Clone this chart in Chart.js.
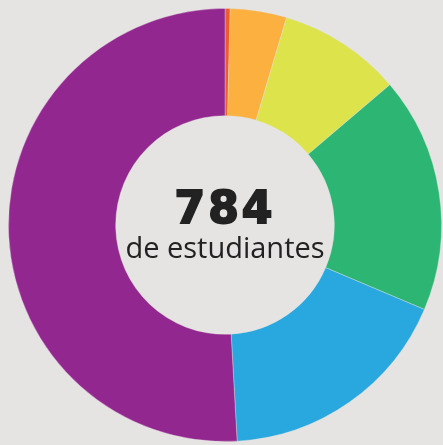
<!DOCTYPE html>
<html>
<head>
<meta charset="utf-8">
<script src="https://cdn.jsdelivr.net/npm/chart.js@4"></script>
<style>
  html, body { margin: 0; padding: 0; background: #e5e4e3; overflow: hidden; }
  #wrap { position: relative; width: 443px; height: 445px; }
  #chart { position: absolute; left: 0; top: 0; }
  .center { position: absolute; left: 0; width: 450px; text-align: center; color: #222; }
  #total { top: 183px; font-family: "DejaVu Sans", sans-serif; font-weight: bold; font-size: 44px; line-height: 50px; letter-spacing: 3px; -webkit-text-stroke: 2px #222; }
  #sub { top: 229px; font-family: "Open Sans", sans-serif; font-size: 29px; line-height: 36px; }
</style>
</head>
<body>
<div id="wrap">
  <canvas id="chart" width="450" height="450"></canvas>
  <div class="center" id="total">784</div>
  <div class="center" id="sub">de estudiantes</div>
</div>
<script>
  // segments clockwise from 12 o'clock
  var categories = ['A', 'B', 'C', 'D', 'E', 'F'];
  var students = [3, 33, 72, 138, 139, 399];
  var colors = ['#f15a29', '#fbb040', '#dde34b', '#2db673', '#29a8e0', '#92278f'];

  new Chart(document.getElementById('chart'), {
    type: 'doughnut',
    data: {
      labels: categories,
      datasets: [{
        data: students,
        backgroundColor: colors,
        borderColor: 'rgba(229,228,227,0.35)',
        borderWidth: 1
      }]
    },
    options: {
      responsive: false,
      animation: false,
      cutout: '50.5%',
      layout: { padding: 8 },
      plugins: { legend: { display: false }, tooltip: { enabled: false } }
    }
  });
</script>
</body>
</html>
